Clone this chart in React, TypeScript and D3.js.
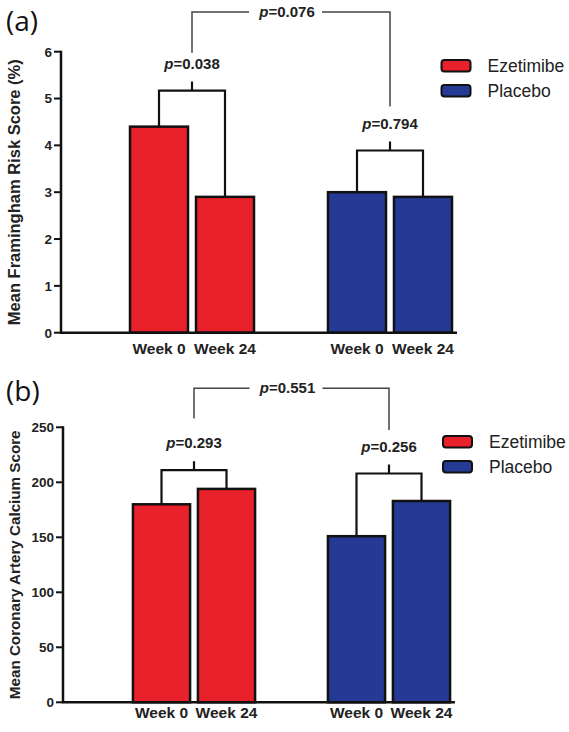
import React from "react";
import * as d3 from "d3";

// ---------- data ----------
const categories = ["Week 0", "Week 24"];
const groups = ["Ezetimibe", "Placebo"];
const groupColors = ["#e8212b", "#243a94"];

// Panel (a): Mean Framingham Risk Score (%)
const framinghamEzetimibe = [4.4, 2.9];
const framinghamPlacebo = [3.0, 2.9];
const framinghamTicks = [0, 1, 2, 3, 4, 5, 6];
const framinghamP = ["0.038", "0.794"];
const framinghamBetweenP = "0.076";
const framinghamBracketLevels = [5.17, 3.89];
const framinghamBetweenLevels = [6.85, 5.98, 4.83]; // top, left end, right end

// Panel (b): Mean Coronary Artery Calcium Score
const calciumEzetimibe = [180, 194];
const calciumPlacebo = [151, 183];
const calciumTicks = [0, 50, 100, 150, 200, 250];
const calciumP = ["0.293", "0.256"];
const calciumBetweenP = "0.551";
const calciumBracketLevels = [211, 208];
const calciumBetweenLevels = [285.5, 258, 247.5];

const SANS = "'Liberation Sans', Arial, sans-serif";

type PanelProps = {
  letter: string;
  yLabel: string;
  yLabelSize: number;
  values: number[][];
  ticks: number[];
  yMax: number;
  pVals: string[];
  betweenP: string;
  bracketLevels: number[];
  betweenLevels: number[];
  axisX: number;
  axisEnd: number;
  yTop: number;
  yBottom: number;
  bandRange: [number, number];
  top: number;
  legendX: number;
  legendY: number;
  weekBaseline: number;
};

function Panel(p: PanelProps) {
  const y = d3.scaleLinear().domain([0, p.yMax]).range([p.yBottom, p.yTop]);
  const idx = [0, 1, 2, 3, 4];
  const x = d3
    .scaleBand<number>()
    .domain(idx)
    .range(p.bandRange)
    .paddingInner(0.121)
    .paddingOuter(0.0606);
  const bw = x.bandwidth();
  const cx = (g: number, c: number) => (x(g * 3 + c) as number) + bw / 2;

  const bars: React.ReactNode[] = [];
  const labels: React.ReactNode[] = [];
  const brackets: React.ReactNode[] = [];
  const tickXs: number[] = [];

  groups.forEach((g, gi) => {
    categories.forEach((c, ci) => {
      const v = p.values[gi][ci];
      bars.push(
        <rect
          key={`b${gi}${ci}`}
          x={x(gi * 3 + ci)}
          y={y(v)}
          width={bw}
          height={y(0) - y(v)}
          fill={groupColors[gi]}
          stroke="#111"
          strokeWidth={2.5}
        />
      );
      labels.push(
        <text
          key={`l${gi}${ci}`}
          x={cx(gi, ci)}
          y={p.weekBaseline}
          textAnchor="middle"
          fontFamily={SANS}
          fontWeight="bold"
          fontSize={15.5}
          fill="#222"
        >
          {c}
        </text>
      );
    });
    const x0 = cx(gi, 0);
    const x1 = cx(gi, 1);
    const by = y(p.bracketLevels[gi]);
    const mid = (x0 + x1) / 2;
    tickXs.push(mid);
    const path = d3.path();
    path.moveTo(x0, y(p.values[gi][0]));
    path.lineTo(x0, by);
    path.lineTo(x1, by);
    path.lineTo(x1, y(p.values[gi][1]));
    path.moveTo(mid, by);
    path.lineTo(mid, by - 9);
    brackets.push(
      <path key={`br${gi}`} d={path.toString()} fill="none" stroke="#111" strokeWidth={2.2} />
    );
    brackets.push(
      <text
        key={`pt${gi}`}
        x={mid}
        y={by - 9 - 13}
        textAnchor="middle"
        fontFamily={SANS}
        fontWeight="bold"
        fontSize={15}
        fill="#222"
      >
        <tspan fontStyle="italic">p</tspan>={p.pVals[gi]}
      </text>
    );
  });

  // between-group bracket
  const topY = y(p.betweenLevels[0]);
  const lx = tickXs[0];
  const rx = tickXs[1];
  const tmid = (lx + rx) / 2 - 4;
  const bp = d3.path();
  bp.moveTo(lx, y(p.betweenLevels[1]));
  bp.lineTo(lx, topY);
  bp.lineTo(tmid - 38, topY);
  bp.moveTo(tmid + 35, topY);
  bp.lineTo(rx, topY);
  bp.lineTo(rx, y(p.betweenLevels[2]));

  return (
    <g>
      <text x={6} y={p.top + 31} fontFamily="'Open Sans', 'Noto Sans', sans-serif" fontSize={28} fill="#111">
        ({p.letter})
      </text>
      {/* y label */}
      <text
        transform={`translate(20,${(p.yTop + p.yBottom) / 2}) rotate(-90)`}
        textAnchor="middle"
        fontFamily={SANS}
        fontWeight="bold"
        fontSize={p.yLabelSize}
        fill="#222"
      >
        {p.yLabel}
      </text>
      {bars}
      {/* axes */}
      <line x1={p.axisX} x2={p.axisX} y1={p.yTop - 1} y2={y(0)} stroke="#111" strokeWidth={2.5} />
      <line x1={p.axisX - 1.2} x2={p.axisEnd} y1={y(0)} y2={y(0)} stroke="#111" strokeWidth={2.5} />
      {p.ticks.map((t) => (
        <g key={t}>
          <line x1={p.axisX - 7} x2={p.axisX} y1={y(t)} y2={y(t)} stroke="#111" strokeWidth={2} />
          <text
            x={p.axisX - 9}
            y={y(t)}
            dy="0.36em"
            textAnchor="end"
            fontFamily={SANS}
            fontWeight="bold"
            fontSize={13.5}
            fill="#222"
          >
            {t}
          </text>
        </g>
      ))}
      {labels}
      {brackets}
      <path d={bp.toString()} fill="none" stroke="#444" strokeWidth={1.5} />
      <text
        x={tmid}
        y={topY + 5}
        textAnchor="middle"
        fontFamily={SANS}
        fontWeight="bold"
        fontSize={15}
        fill="#222"
      >
        <tspan fontStyle="italic">p</tspan>={p.betweenP}
      </text>
      {/* legend */}
      {groups.map((g, gi) => (
        <g key={g}>
          <rect
            x={p.legendX}
            y={p.legendY + gi * 25 - 11}
            width={29}
            height={11.5}
            rx={3}
            fill={groupColors[gi]}
            stroke="#111"
            strokeWidth={2}
          />
          <text
            x={p.legendX + 46}
            y={p.legendY + gi * 25 + 1}
            fontFamily={SANS}
            fontSize={17.5}
            fill="#222"
          >
            {g}
          </text>
        </g>
      ))}
    </g>
  );
}

export default function App() {
  return (
    <svg
      width={569}
      height={732}
      style={{ position: "absolute", left: 0, top: 0, background: "#fff" }}
    >
      <rect width={569} height={732} fill="#fff" />
      <Panel
        letter="a"
        yLabel="Mean Framingham Risk Score (%)"
        yLabelSize={16.5}
        values={[framinghamEzetimibe, framinghamPlacebo]}
        ticks={framinghamTicks}
        yMax={6}
        pVals={framinghamP}
        betweenP={framinghamBetweenP}
        bracketLevels={framinghamBracketLevels}
        betweenLevels={framinghamBetweenLevels}
        axisX={61}
        axisEnd={457}
        yTop={51.7}
        yBottom={332.7}
        bandRange={[126, 456]}
        top={0}
        legendX={441.5}
        legendY={71}
        weekBaseline={353.5}
      />
      <Panel
        letter="b"
        yLabel="Mean Coronary Artery Calcium Score"
        yLabelSize={15.2}
        values={[calciumEzetimibe, calciumPlacebo]}
        ticks={calciumTicks}
        yMax={250}
        pVals={calciumP}
        betweenP={calciumBetweenP}
        bracketLevels={calciumBracketLevels}
        betweenLevels={calciumBetweenLevels}
        axisX={63}
        axisEnd={455}
        yTop={427.3}
        yBottom={702.3}
        bandRange={[129, 454]}
        top={370}
        legendX={443}
        legendY={447}
        weekBaseline={718}
      />
    </svg>
  );
}
